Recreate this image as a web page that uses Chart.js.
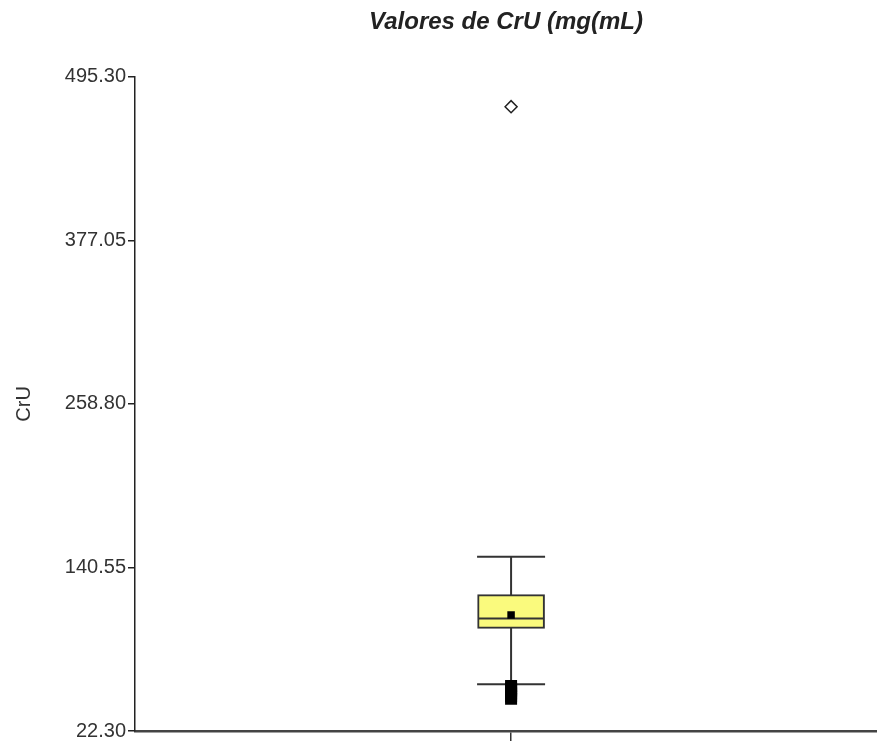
<!DOCTYPE html>
<html>
<head>
<meta charset="utf-8">
<script src="https://cdn.jsdelivr.net/npm/chart.js@4/dist/chart.umd.min.js"></script>
<style>
  body { margin: 0; background: #fff; }
  #wrap { width: 877px; height: 745px; }
</style>
</head>
<body>
<div id="wrap"><canvas id="boxChart" width="877" height="745"></canvas></div>
<script>
// valores
const categories = ['CrU'];
const yTicks = [22.30, 140.55, 258.80, 377.05, 495.30];
const q1 = [96.5];
const median = [103.7];
const q3 = [120.9];
const mean = [106.2];
const whiskerLow = [56.1];
const whiskerHigh = [148.3];
const outliersHigh = [473.7];
const outliersLow = [45.6, 47.5, 49.5, 51.5, 53.0, 54.9];

const lineColor = '#333';
const fontFamily = "'Liberation Sans', Arial, sans-serif";

// posición de la categoría en el eje x
const xs = categories.map((c, i) => i);

const ctx = document.getElementById('boxChart').getContext('2d');
new Chart(ctx, {
    type: 'bar',
    data: {
        datasets: [
            {
                // bigotes
                type: 'line',
                data: xs.flatMap(i => [{ x: i, y: whiskerLow[i] }, { x: i, y: whiskerHigh[i] }]),
                borderColor: lineColor,
                borderWidth: 2,
                pointRadius: 0,
                order: 6
            },
            {
                // caja
                type: 'bar',
                data: xs.map(i => ({ x: i, y: [q1[i], q3[i]] })),
                backgroundColor: '#fafa7d',
                borderColor: lineColor,
                borderWidth: 2,
                borderSkipped: false,
                barThickness: 67,
                order: 5
            },
            {
                // topes de los bigotes
                type: 'scatter',
                data: xs.flatMap(i => [{ x: i, y: whiskerLow[i] }, { x: i, y: whiskerHigh[i] }]),
                pointStyle: 'line',
                pointRadius: 34,
                borderColor: lineColor,
                borderWidth: 2,
                order: 4
            },
            {
                // mediana
                type: 'scatter',
                data: xs.map(i => ({ x: i, y: median[i] })),
                pointStyle: 'line',
                pointRadius: 33,
                borderColor: lineColor,
                borderWidth: 2,
                order: 3
            },
            {
                // media
                type: 'scatter',
                data: xs.map(i => ({ x: i, y: mean[i] })),
                pointStyle: 'rect',
                pointRadius: 5.3,
                backgroundColor: '#000',
                borderColor: '#000',
                borderWidth: 0,
                order: 2
            },
            {
                // valores atípicos altos
                type: 'scatter',
                data: outliersHigh.map(v => ({ x: 0, y: v })),
                pointStyle: 'rectRot',
                pointRadius: 6,
                backgroundColor: '#fff',
                borderColor: '#222',
                borderWidth: 1.5,
                order: 1
            },
            {
                // valores atípicos bajos
                type: 'scatter',
                data: outliersLow.map(v => ({ x: 0, y: v })),
                pointStyle: 'rect',
                pointRadius: 8.5,
                backgroundColor: '#000',
                borderColor: '#000',
                borderWidth: 0,
                order: 1
            }
        ]
    },
    options: {
        responsive: false,
        animation: false,
        layout: { padding: 0, autoPadding: false },
        plugins: {
            legend: { display: false },
            tooltip: { enabled: false },
            title: {
                display: true,
                text: 'Valores de CrU (mg(mL)',
                fullSize: false,
                color: '#222',
                font: { family: fontFamily, size: 24, weight: 'bold', style: 'italic' },
                padding: { top: 8, bottom: 40 }
            }
        },
        scales: {
            x: {
                type: 'linear',
                min: -1,
                max: 0.973,
                offset: false,
                afterBuildTicks: scale => { scale.ticks = xs.map(v => ({ value: v })); },
                afterFit: scale => { scale.height = 13; },
                ticks: { callback: () => '' },
                grid: { offset: false, drawOnChartArea: false, drawTicks: true, tickLength: 10, color: '#333', lineWidth: 1.5 },
                border: { display: true, color: '#444', width: 2.5 }
            },
            y: {
                min: 22.30,
                max: 495.30,
                afterBuildTicks: scale => { scale.ticks = yTicks.map(v => ({ value: v })); },
                afterFit: scale => { scale.width = 135; },
                ticks: {
                    color: '#333',
                    padding: 2,
                    font: { family: fontFamily, size: 20 },
                    callback: v => Number(v).toFixed(2)
                },
                grid: { drawOnChartArea: false, drawTicks: true, tickLength: 7, color: '#222', lineWidth: 1.5 },
                border: { display: true, color: '#222', width: 1.5 },
                title: {
                    display: true,
                    text: 'CrU',
                    color: '#333',
                    font: { family: fontFamily, size: 20 },
                    padding: { top: 12, bottom: 0 }
                }
            }
        }
    }
});
</script>
</body>
</html>
